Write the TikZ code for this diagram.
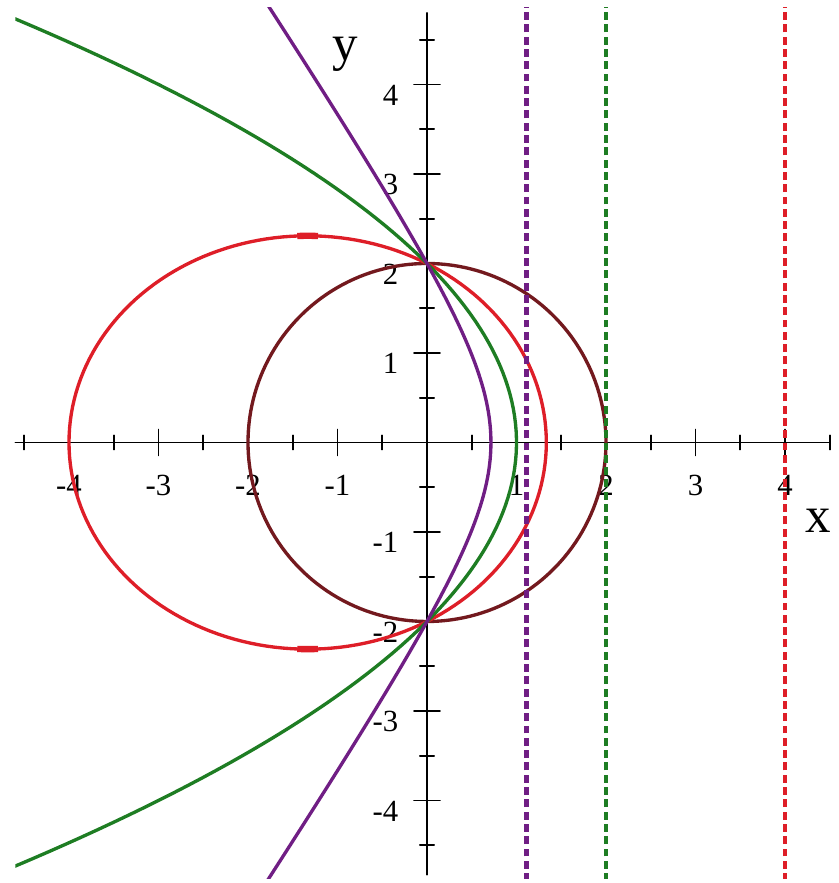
\documentclass[tikz,border=0pt]{standalone}
\usepackage{fontspec}
\setmainfont{Liberation Serif}
\definecolor{mauNau}{RGB}{115,25,30}
\definecolor{mauDo}{RGB}{222,30,40}
\definecolor{mauXanh}{RGB}{30,125,35}
\definecolor{mauTim}{RGB}{112,30,132}

\begin{document}
\begin{tikzpicture}[x=1.79cm, y=1.79cm, line join=round, line cap=round,
	truc/.style={black, line width=0.9pt},
	duong/.style={line width=1.9pt},
	tiemcan/.style={line width=2.6pt, line cap=butt, dash pattern=on 4.5pt off 2.5pt},
	nhan/.style={inner sep=0pt, font=\fontsize{17.5}{20}\selectfont},
	chu/.style={inner sep=0pt, font=\fontsize{29}{32}\selectfont}]
	% [Khung hình - Layer 0]
	\useasboundingbox (-4.771,-4.922) rectangle (4.603,4.944);
	
	% [Trục tọa độ - Layer 1]
	\draw[truc] (-4.6,0) -- (4.5,0);
	\draw[truc] (0,-4.83) -- (0,4.8);
	\foreach \i in {-4.5,-3.5,...,4.5}{
		\draw[truc] (\i,-0.08) -- (\i,0.08);
		\draw[truc] (-0.08,\i) -- (0.08,\i);
	}
	\foreach \i [count=\k] in {-4,-3,-2,-1,1,2,3,4}{
		\draw[truc] (\i,-0.145) -- (\i,0.145);
		\draw[truc] (-0.145,\i) -- (0.145,\i);
		\node[nhan, anchor=north] (lx\k) at (\i,-0.363) {\i};
		\node[nhan, anchor=north east] (ly\k) at (-0.318,\i) {\i};
	}
	\node[chu, anchor=base] (nx) at (4.37,-1.011) {x};
	\node[chu, anchor=base] (ny) at (-0.916,4.27) {y};
	
	% [Các conic - Layer 2]
	\begin{scope}
		\clip (-4.6,-4.87) rectangle (4.6,4.86);
		\draw[duong, mauNau] plot[domain=0:360, samples=181] ({2*cos(\x)},{2*sin(\x)});
		\draw[duong, mauDo] plot[domain=0:360, samples=181] ({-4/3+8/3*cos(\x)},{2.3094*sin(\x)});
		\draw[duong, mauXanh] plot[domain=-4.9:4.9, samples=120] ({1-\x*\x/4},\x);
		\draw[duong, mauTim] plot[domain=-114:114, samples=229]
			({2*cos(\x)/(1+1.8*cos(\x))},{2*sin(\x)/(1+1.8*cos(\x))});
		
		% [Add-ons: vết đậm trên elip]
		\draw[mauDo, line width=3.6pt, line cap=butt] plot[domain=87.5:92.5, samples=6] ({-4/3+8/3*cos(\x)},{2.3094*sin(\x)});
		\draw[mauDo, line width=3.6pt, line cap=butt] plot[domain=267.5:272.5, samples=6] ({-4/3+8/3*cos(\x)},{2.3094*sin(\x)});
		
		% [Đường chuẩn - Layer 3]
		\draw[tiemcan, mauTim] (1.1111,-4.9) -- (1.1111,4.9);
		\draw[tiemcan, mauXanh] (2,-4.9) -- (2,4.9);
		\draw[tiemcan, mauDo] (4,-4.9) -- (4,4.9);
	\end{scope}
\end{tikzpicture}
\end{document}
